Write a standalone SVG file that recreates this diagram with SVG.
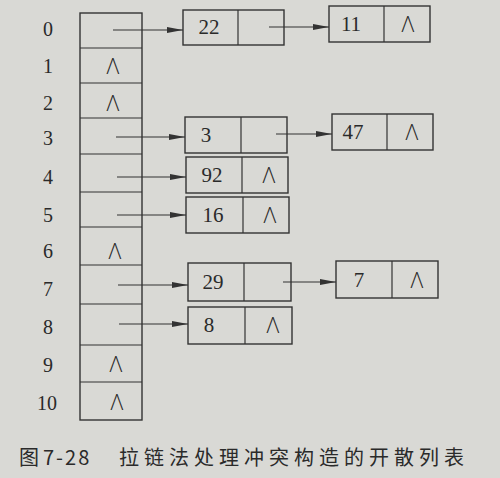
<svg xmlns="http://www.w3.org/2000/svg" width="500" height="478" viewBox="0 0 500 478">
<defs>
<style>
.box{fill:none;stroke:#333;stroke-width:1.4}
.ln{fill:none;stroke:#333;stroke-width:1.2}
.idx{font-family:"Liberation Serif",serif;font-size:20px;fill:#2a2a2a;text-anchor:middle}
.val{font-family:"Liberation Serif",serif;font-size:21px;fill:#2a2a2a;text-anchor:middle}
.nil{font-family:"Open Sans","Liberation Sans",sans-serif;font-weight:300;font-size:22px;fill:#2a2a2a;text-anchor:middle}
.cap{font-family:"Noto Sans CJK SC","Noto Sans",sans-serif;font-size:20px;fill:#2a2a2a}
</style>
<marker id="ah" markerUnits="userSpaceOnUse" markerWidth="16" markerHeight="6" refX="16" refY="3" orient="auto">
<path d="M0,0 L16,3 L0,6 z" fill="#333"/>
</marker>
</defs>
<rect x="0" y="0" width="500" height="478" fill="#d9d9d5"/>

<g id="table">
<rect class="box" x="80" y="13" width="62" height="407"/>
<path class="ln" d="M80,48H142M80,83H142M80,118H142M80,154H142M80,192H142M80,227H142M80,265H142M80,304H142M80,345H142M80,382H142"/>
<text class="idx" x="48" y="36">0</text>
<text class="idx" x="48" y="73">1</text>
<text class="idx" x="48" y="110">2</text>
<text class="idx" x="48" y="145">3</text>
<text class="idx" x="48" y="184">4</text>
<text class="idx" x="48" y="222">5</text>
<text class="idx" x="48" y="258">6</text>
<text class="idx" x="48" y="296">7</text>
<text class="idx" x="48" y="334">8</text>
<text class="idx" x="48" y="372">9</text>
<text class="idx" x="47" y="410">10</text>
<text class="nil" x="113" y="74">Λ</text>
<text class="nil" x="113" y="111">Λ</text>
<text class="nil" x="115" y="259">Λ</text>
<text class="nil" x="116" y="372">Λ</text>
<text class="nil" x="117" y="410">Λ</text>
</g>

<g id="node-22">
<rect class="box" x="183" y="10" width="101" height="35"/>
<line class="ln" x1="238" y1="10" x2="238" y2="45"/>
<text class="val" x="209" y="34">22</text>
</g>
<g id="node-11">
<rect class="box" x="329" y="6" width="101" height="36"/>
<line class="ln" x1="384" y1="6" x2="384" y2="42"/>
<text class="val" x="351" y="31">11</text>
<text class="nil" x="408" y="32">Λ</text>
</g>
<g id="node-3">
<rect class="box" x="185" y="117" width="102" height="36"/>
<line class="ln" x1="241" y1="117" x2="241" y2="153"/>
<text class="val" x="206" y="142">3</text>
</g>
<g id="node-47">
<rect class="box" x="332" y="114" width="101" height="36"/>
<line class="ln" x1="387" y1="114" x2="387" y2="150"/>
<text class="val" x="353" y="139">47</text>
<text class="nil" x="412" y="140">Λ</text>
</g>
<g id="node-92">
<rect class="box" x="186" y="157" width="102" height="36"/>
<line class="ln" x1="242" y1="157" x2="242" y2="193"/>
<text class="val" x="212" y="182">92</text>
<text class="nil" x="269" y="183">Λ</text>
</g>
<g id="node-16">
<rect class="box" x="186" y="197" width="103" height="36"/>
<line class="ln" x1="243" y1="197" x2="243" y2="233"/>
<text class="val" x="213" y="222">16</text>
<text class="nil" x="270" y="223">Λ</text>
</g>
<g id="node-29">
<rect class="box" x="188" y="263" width="103" height="38"/>
<line class="ln" x1="244" y1="263" x2="244" y2="301"/>
<text class="val" x="213" y="289">29</text>
</g>
<g id="node-7">
<rect class="box" x="336" y="261" width="102" height="37"/>
<line class="ln" x1="392" y1="261" x2="392" y2="298"/>
<text class="val" x="359" y="287">7</text>
<text class="nil" x="417" y="288">Λ</text>
</g>
<g id="node-8">
<rect class="box" x="188" y="307" width="104" height="37"/>
<line class="ln" x1="245" y1="307" x2="245" y2="344"/>
<text class="val" x="209" y="332">8</text>
<text class="nil" x="273" y="333">Λ</text>
</g>

<g id="connectors">
<line class="ln" x1="113" y1="30" x2="183" y2="30" marker-end="url(#ah)"/>
<line class="ln" x1="269" y1="27" x2="329" y2="27" marker-end="url(#ah)"/>
<line class="ln" x1="116" y1="137" x2="185" y2="137" marker-end="url(#ah)"/>
<line class="ln" x1="276" y1="134" x2="332" y2="134" marker-end="url(#ah)"/>
<line class="ln" x1="117" y1="177" x2="186" y2="177" marker-end="url(#ah)"/>
<line class="ln" x1="117" y1="215" x2="186" y2="215" marker-end="url(#ah)"/>
<line class="ln" x1="118" y1="285" x2="188" y2="285" marker-end="url(#ah)"/>
<line class="ln" x1="283" y1="282" x2="336" y2="282" marker-end="url(#ah)"/>
<line class="ln" x1="119" y1="324" x2="188" y2="324" marker-end="url(#ah)"/>
</g>

<g id="caption">
<text class="cap" x="19" y="465">图</text>
<text class="cap" x="43" y="465" letter-spacing="2">7-28</text>
<text class="cap" x="119" y="465" letter-spacing="5">拉链法处理冲突构造的开散列表</text>
</g>
</svg>
